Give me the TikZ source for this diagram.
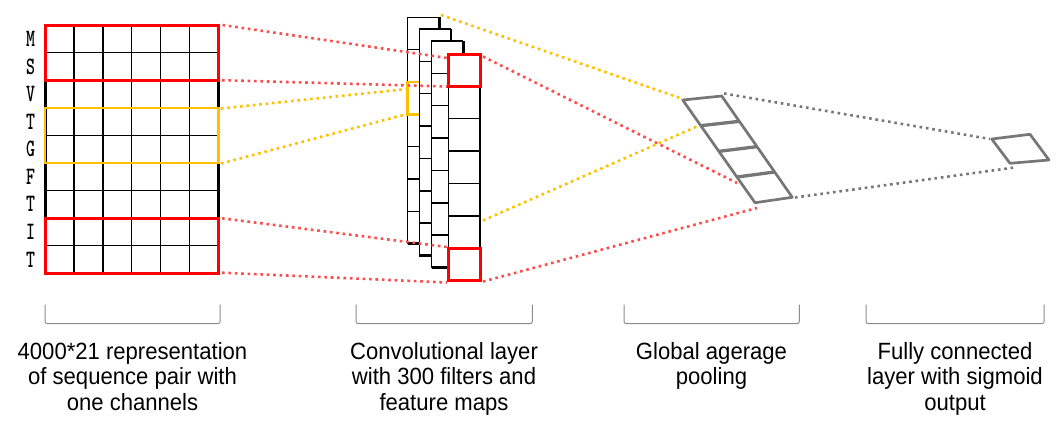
\documentclass[tikz,border=0pt]{standalone}
\usepackage{fontspec}
\setmainfont[FakeStretch=0.94]{Liberation Sans}
\usepackage{graphicx}
\usetikzlibrary{calc}
\definecolor{cred}{RGB}{255,0,0}
\definecolor{cyel}{RGB}{255,192,0}
\definecolor{dred}{RGB}{255,75,75}
\definecolor{pgray}{RGB}{118,118,118}
\definecolor{bgray}{RGB}{140,140,140}
\tikzset{
  gridline/.style={black, line width=1.5pt},
  edgeline/.style={black, line width=3pt},
  redbox/.style={cred, line width=3pt},
  yelbox/.style={cyel, line width=2.6pt},
  thinedge/.style={black, line width=1.4pt},
  thickedge/.style={black, line width=2.8pt},
  dotred/.style={dred, line width=2.6pt, dash pattern=on 2.6pt off 3.8pt},
  dotyel/.style={cyel, line width=2.6pt, dash pattern=on 2.6pt off 3.8pt},
  dotgray/.style={pgray, line width=2.6pt, dash pattern=on 2.6pt off 3.8pt},
  poolline/.style={pgray, line width=2.7pt, line join=round},
  bracket/.style={bgray, line width=1pt, rounded corners=2pt},
  caption/.style={align=center, inner sep=0pt, anchor=north,
    font=\fontsize{23.5}{25.7}\selectfont},
  letter/.style={inner sep=0pt, font=\ttfamily\bfseries\fontsize{25}{25}\selectfont},
}
\begin{document}
\begin{tikzpicture}[x=1pt,y=-1pt]
\useasboundingbox (0,0) rectangle (1063,431);

% ---------------- input grid ----------------
\foreach \i in {1,...,8}
  \draw[gridline] (45,{25+\i*27.59}) -- (218.3,{25+\i*27.59});
\foreach \j in {1,...,5}
  \draw[gridline] ({45+\j*28.88},25) -- ({45+\j*28.88},273.3);
\draw[edgeline] (45,25) -- (45,273.3);
\draw[edgeline] (218.3,25) -- (218.3,273.3);
\draw[yelbox] (45,107.8) rectangle (218.3,162.9);
\draw[redbox] (45,25) rectangle (218.3,80.2);
\draw[redbox] (45,218.1) rectangle (218.3,273.3);

\foreach \L [count=\k from 0] in {M,S,V,T,G,F,T,I,T}
  \node[letter] (let\k) at (30.7,{25+(\k+0.5)*27.59}) {\scalebox{0.68}[1]{\L}};

% ---------------- convolution stacks ----------------
\foreach \l/\t [count=\s] in {407.7/17.3, 419.3/29, 431.7/41, 448.3/54}{
  \pgfmathsetmacro{\r}{\l+31.7}
  \pgfmathsetmacro{\b}{\t+226.5}
  \fill[white] (\l,\t) rectangle (\r,\b);
  \foreach \c in {1,...,6}
    \draw[thinedge] (\l,{\t+\c*32.36}) -- (\r,{\t+\c*32.36});
  \draw[thinedge] (\l,\b) -- (\l,\t) -- (\r,\t);
  \draw[thickedge] (\r,\t) -- (\r,\b) -- (\l,\b);
  \ifnum\s=1
    \draw[yelbox] (\l,{\t+2*32.36}) rectangle (\r,{\t+3*32.36});
  \fi
  \ifnum\s=4
    \draw[redbox] (\l,\t) rectangle (\r,{\t+32.36});
    \draw[redbox] (\l,{\t+6*32.36}) rectangle (\r,\b);
  \fi
}

% ---------------- pooling ----------------
\coordinate (pA) at (682.7,100);
\coordinate (pB) at (721.7,96);
\coordinate (pC) at (792.3,197.3);
\coordinate (pD) at (755,202.7);
\draw[poolline] (pA) -- (pB) -- (pC) -- (pD) -- cycle;
\foreach \f in {0.25,0.5,0.75}
  \draw[pgray, line width=3.3pt] ($(pA)!\f!(pD)$) -- ($(pB)!\f!(pC)$);

% ---------------- fully connected ----------------
\coordinate (fA) at (991.7,139);
\coordinate (fB) at (1030,134.3);
\coordinate (fC) at (1049,160);
\coordinate (fD) at (1010,163.3);
\draw[poolline] (fA) -- (fB) -- (fC) -- (fD) -- cycle;

% ---------------- connectors ----------------
\coordinate (r1s) at (222.5,25);   \coordinate (r1e) at (447,58);
\coordinate (r2s) at (222,80.2);   \coordinate (r2e) at (447,86.5);
\coordinate (y1s) at (221,108.5);  \coordinate (y1e) at (407,89);
\coordinate (y2s) at (221,163.5);  \coordinate (y2e) at (407,114);
\coordinate (r3s) at (222,218.3);  \coordinate (r3e) at (447,247);
\coordinate (r4s) at (222,272.7);  \coordinate (r4e) at (447,282.5);
\coordinate (y3s) at (441,15);     \coordinate (y3e) at (683,99);
\coordinate (r5s) at (483,56.5);   \coordinate (r5e) at (737,183);
\coordinate (y4s) at (483,220.5);  \coordinate (y4e) at (698,126);
\coordinate (r6s) at (483,281.5);  \coordinate (r6e) at (757,208);
\coordinate (g1s) at (724,93.5);   \coordinate (g1e) at (990,139);
\coordinate (g2s) at (795,197.5);  \coordinate (g2e) at (1013,167.7);

\draw[dotred] (r1s) -- (r1e);
\draw[dotred] (r2s) -- (r2e);
\draw[dotyel] (y1s) -- (y1e);
\draw[dotyel] (y2s) -- (y2e);
\draw[dotred] (r3s) -- (r3e);
\draw[dotred] (r4s) -- (r4e);
\draw[dotyel] (y3s) -- (y3e);
\draw[dotred] (r5s) -- (r5e);
\draw[dotyel] (y4s) -- (y4e);
\draw[dotred] (r6s) -- (r6e);
\draw[dotgray] (g1s) -- (g1e);
\draw[dotgray] (g2s) -- (g2e);

% ---------------- brackets ----------------
\foreach \a/\b in {45/220, 356/532.3, 624/799.3, 866/1044}
  \draw[bracket] (\a,304.5) -- (\a,323.5) -- (\b,323.5) -- (\b,304.5);

% ---------------- captions ----------------
\node[caption] (cap1) at (132.5,342) {4000*21 representation\\of sequence pair with\\one channels};
\node[caption] (cap2) at (444,342) {Convolutional layer\\with 300 filters and\\feature maps};
\node[caption] (cap3) at (711.5,342) {Global agerage\\pooling};
\node[caption] (cap4) at (955,342) {Fully connected\\layer with sigmoid\\output};
\end{tikzpicture}
\end{document}
